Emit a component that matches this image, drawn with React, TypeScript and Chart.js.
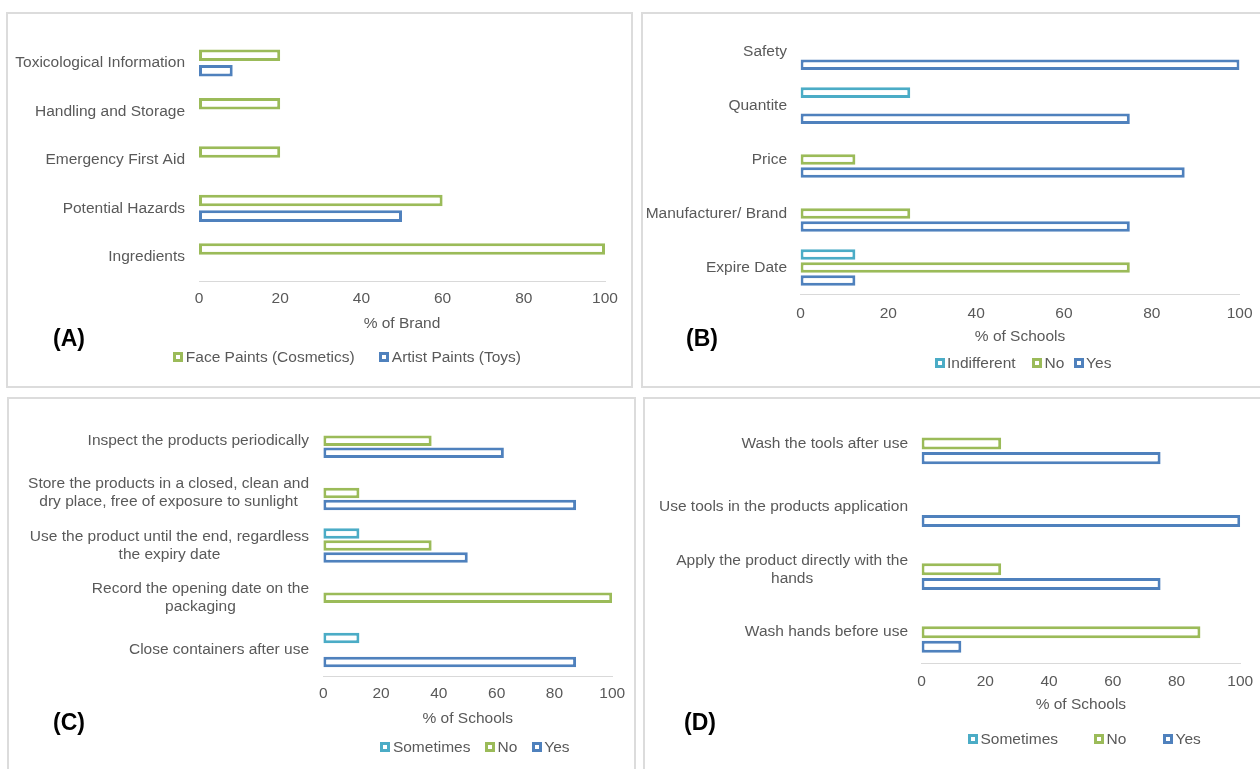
import React, { useEffect, useRef } from 'react';
import { Chart, registerables } from 'chart.js';

Chart.register(...registerables);

// ---------- DATA ----------
const xTicks = [0, 20, 40, 60, 80, 100];

// Panel A
const aCategories = [
  ['Toxicological Information'],
  ['Handling and Storage'],
  ['Emergency First Aid'],
  ['Potential Hazards'],
  ['Ingredients'],
];
const aSeriesNames = ['Face Paints (Cosmetics)', 'Artist Paints (Toys)'];
const aFacePaints = [20, 20, 20, 60, 100];
const aArtistPaints = [8.3, 0, 0, 50, 0];
const aAxisTitle = '% of Brand';

// Panel B
const bCategories = [['Safety'], ['Quantite'], ['Price'], ['Manufacturer/ Brand'], ['Expire Date']];
const bSeriesNames = ['Indifferent', 'No', 'Yes'];
const bIndifferent = [0, 25, 0, 0, 12.5];
const bNo = [0, 0, 12.5, 25, 75];
const bYes = [100, 75, 87.5, 75, 12.5];
const bAxisTitle = '% of Schools';

// Panel C
const cCategories = [
  ['Inspect the products periodically'],
  ['Store the products in a closed, clean and', 'dry place, free of exposure to sunlight'],
  ['Use the product until the end, regardless', 'the expiry date'],
  ['Record the opening date on the', 'packaging'],
  ['Close containers after use'],
];
const cSeriesNames = ['Sometimes', 'No', 'Yes'];
const cSometimes = [0, 0, 12.5, 0, 12.5];
const cNo = [37.5, 12.5, 37.5, 100, 0];
const cYes = [62.5, 87.5, 50, 0, 87.5];
const cAxisTitle = '% of Schools';

// Panel D
const dCategories = [
  ['Wash the tools after use'],
  ['Use tools in the products application'],
  ['Apply the product directly with the', 'hands'],
  ['Wash hands before use'],
];
const dSeriesNames = ['Sometimes', 'No', 'Yes'];
const dSometimes = [0, 0, 0, 0];
const dNo = [25, 0, 25, 87.5];
const dYes = [75, 100, 75, 12.5];
const dAxisTitle = '% of Schools';

// ---------- STYLE ----------
const GREEN = '#9BBB59';
const BLUE = '#4F81BD';
const CYAN = '#4BACC6';
const TEXT = '#595959';
const FONT = '"Liberation Sans", Arial, sans-serif';
const FS = 15.5;
const LH = 1.2;

type Layout = {
  box: [number, number, number, number];
  plot: [number, number, number, number];
  tickCenter: number;
  titleCenter: number;
  labelRight: number;
  lineGap: number;
  cp: number;
  bp: number;
  letter: { text: string; x: number; y: number };
  legend: { y: number; lefts: number[] };
};

const yLabelPlugin = {
  id: 'yLabels',
  afterDraw(chart: any, _args: any, opts: any) {
    const { ctx } = chart;
    const yScale = chart.scales.y;
    const labels = chart.data.labels as string[][];
    ctx.save();
    ctx.font = `${FS}px ${FONT}`;
    ctx.fillStyle = TEXT;
    ctx.textBaseline = 'middle';
    ctx.textAlign = 'center';
    labels.forEach((lines, i) => {
      const cy = yScale.getPixelForValue(i);
      const maxW = Math.max(...lines.map((l) => ctx.measureText(l).width));
      const cx = opts.right - maxW / 2;
      const n = lines.length;
      lines.forEach((line, j) => {
        ctx.fillText(line, cx, cy + (j - (n - 1) / 2) * opts.lineGap);
      });
    });
    ctx.restore();
  },
};

function Panel({
  layout,
  categories,
  names,
  series,
  colors,
  axisTitle,
}: {
  layout: Layout;
  categories: string[][];
  names: string[];
  series: number[][];
  colors: string[];
  axisTitle: string;
}) {
  const ref = useRef<HTMLCanvasElement>(null);
  const [bl, bt, br, bb] = layout.box;
  const [pl, pt, pr, pb] = layout.plot;
  const W = br - bl;
  const H = bb - bt;
  const lineH = FS * LH;
  const XH = layout.titleCenter - pb + lineH / 2;
  const tickPad = layout.tickCenter - pb - lineH / 2;

  useEffect(() => {
    if (!ref.current) return;
    const chart = new Chart(ref.current, {
      type: 'bar',
      data: {
        labels: categories as any,
        datasets: series.map((d, i) => ({
          label: names[i],
          data: d,
          backgroundColor: '#ffffff',
          borderColor: colors[i],
          borderWidth: 3,
          borderSkipped: false,
          categoryPercentage: layout.cp,
          barPercentage: layout.bp,
        })),
      },
      options: {
        indexAxis: 'y',
        animation: false,
        responsive: false,
        maintainAspectRatio: false,
        layout: {
          padding: {
            left: pl - bl,
            top: pt - bt,
            right: br - pr,
            bottom: bb - pb - XH,
          },
        },
        plugins: {
          legend: { display: false },
          tooltip: { enabled: false },
          yLabels: { right: layout.labelRight - bl, lineGap: layout.lineGap },
        } as any,
        scales: {
          y: { display: false },
          x: {
            min: 0,
            max: 100,
            afterBuildTicks: (scale: any) => {
              scale.ticks = xTicks.map((v) => ({ value: v }));
            },
            afterFit: (scale: any) => {
              scale.height = XH;
            },
            grid: { display: false, drawTicks: false },
            border: { display: true, color: '#d9d9d9', width: 1 },
            ticks: {
              padding: tickPad,
              color: TEXT,
              font: { family: FONT, size: FS, lineHeight: LH },
              autoSkip: false,
              maxRotation: 0,
            },
            title: {
              display: true,
              text: axisTitle,
              color: TEXT,
              font: { family: FONT, size: FS, lineHeight: LH },
              padding: { top: 0, bottom: 0 },
            },
          },
        },
      },
      plugins: [yLabelPlugin],
    } as any);
    return () => chart.destroy();
  }, []);

  return (
    <>
      <canvas
        ref={ref}
        width={W}
        height={H}
        style={{ position: 'absolute', left: bl, top: bt, width: W, height: H }}
      />
      <div
        style={{
          position: 'absolute',
          left: bl,
          top: bt,
          width: W,
          height: H,
          border: '2px solid #dcdcdc',
          boxSizing: 'border-box',
          pointerEvents: 'none',
        }}
      />
      <div
        style={{
          position: 'absolute',
          left: layout.letter.x,
          top: layout.letter.y - 13,
          height: 26,
          lineHeight: '26px',
          fontFamily: FONT,
          fontWeight: 'bold',
          fontSize: 23,
          color: '#000',
          whiteSpace: 'nowrap',
        }}
      >
        {layout.letter.text}
      </div>
      {names.map((n, i) => (
        <div
          key={n}
          style={{
            position: 'absolute',
            left: layout.legend.lefts[i],
            top: layout.legend.y - 10,
            height: 20,
            display: 'flex',
            alignItems: 'center',
            whiteSpace: 'nowrap',
          }}
        >
          <span
            style={{
              display: 'inline-block',
              width: 10,
              height: 10,
              border: `3px solid ${colors[i]}`,
              background: '#fff',
              boxSizing: 'border-box',
              marginRight: 2.5,
            }}
          />
          <span style={{ fontFamily: FONT, fontSize: FS, color: TEXT, lineHeight: '20px' }}>{n}</span>
        </div>
      ))}
    </>
  );
}

const layoutA: Layout = {
  box: [6, 12, 633, 388],
  plot: [199, 38.8, 605, 281],
  tickCenter: 299,
  titleCenter: 323.3,
  labelRight: 185,
  lineGap: 18,
  cp: 0.644,
  bp: 0.74,
  letter: { text: '(A)', x: 53, y: 338 },
  legend: { y: 356.5, lefts: [173.3, 379.3] },
};
const layoutB: Layout = {
  box: [641, 12, 1262, 388],
  plot: [800.5, 24.7, 1245, 294.5],
  tickCenter: 313.3,
  titleCenter: 336.7,
  labelRight: 787,
  lineGap: 18,
  cp: 0.723,
  bp: 0.81,
  letter: { text: '(B)', x: 686, y: 338.3 },
  legend: { y: 363.3, lefts: [934.5, 1032, 1073.6] },
};
const layoutC: Layout = {
  box: [7, 397, 636, 772],
  plot: [323.3, 414.6, 612.2, 676.2],
  tickCenter: 693.5,
  titleCenter: 718.3,
  labelRight: 309,
  lineGap: 18,
  cp: 0.688,
  bp: 0.875,
  letter: { text: '(C)', x: 53, y: 721.7 },
  legend: { y: 746.7, lefts: [380.4, 485, 531.8] },
};
const layoutD: Layout = {
  box: [643, 397, 1262, 772],
  plot: [921.5, 412, 1241, 663.6],
  tickCenter: 681.7,
  titleCenter: 705,
  labelRight: 908,
  lineGap: 18,
  cp: 0.7,
  bp: 0.82,
  letter: { text: '(D)', x: 684, y: 721.7 },
  legend: { y: 739, lefts: [968, 1094, 1163] },
};

export default function App() {
  return (
    <div
      style={{
        position: 'absolute',
        left: 0,
        top: 0,
        width: 1260,
        height: 769,
        overflow: 'hidden',
        background: '#fff',
      }}
    >
      <Panel
        layout={layoutA}
        categories={aCategories}
        names={aSeriesNames}
        series={[aFacePaints, aArtistPaints]}
        colors={[GREEN, BLUE]}
        axisTitle={aAxisTitle}
      />
      <Panel
        layout={layoutB}
        categories={bCategories}
        names={bSeriesNames}
        series={[bIndifferent, bNo, bYes]}
        colors={[CYAN, GREEN, BLUE]}
        axisTitle={bAxisTitle}
      />
      <Panel
        layout={layoutC}
        categories={cCategories}
        names={cSeriesNames}
        series={[cSometimes, cNo, cYes]}
        colors={[CYAN, GREEN, BLUE]}
        axisTitle={cAxisTitle}
      />
      <Panel
        layout={layoutD}
        categories={dCategories}
        names={dSeriesNames}
        series={[dSometimes, dNo, dYes]}
        colors={[CYAN, GREEN, BLUE]}
        axisTitle={dAxisTitle}
      />
    </div>
  );
}
